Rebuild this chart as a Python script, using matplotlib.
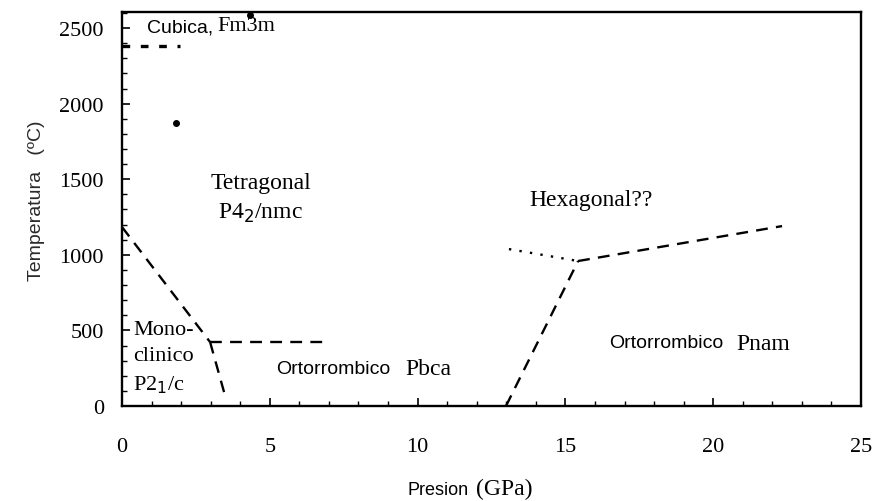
import matplotlib.pyplot as plt
from matplotlib.ticker import MultipleLocator

# fronteras de fase (presion GPa, temperatura C)
cub_p = [0.0, 1.96]
cub_t = [2380, 2380]

mono_tet_p = [0.0, 2.98]
mono_tet_t = [1184, 423]

tet_orto_p = [2.98, 7.04]
tet_orto_t = [423, 423]

mono_orto_p = [2.98, 3.48]
mono_orto_t = [423, 73]

orto_pnam_p = [12.99, 15.43]
orto_pnam_t = [0, 959]

pnam_hex_p = [15.43, 22.33]
pnam_hex_t = [959, 1190]

tet_hex_p = [13.09, 15.43]
tet_hex_t = [1038, 959]

puntos_p = [1.83, 4.33]
puntos_t = [1872, 2586]

x_ticks = [0, 5, 10, 15, 20, 25]
y_ticks = [0, 500, 1000, 1500, 2000, 2500]

serif = 'Liberation Serif'
sans = 'Liberation Sans'

fig = plt.figure(figsize=(8.73, 5.02), dpi=100)
ax = fig.add_axes([0.13975, 0.1892, 0.8465, 0.7849])

dash = (0, (5, 3.5))
lw = 1.7
ax.plot(cub_p, cub_t, color='black', lw=2.4, linestyle=(0, (2.3, 3.2)))
ax.plot(mono_tet_p, mono_tet_t, color='black', lw=lw, linestyle=dash)
ax.plot(tet_orto_p, tet_orto_t, color='black', lw=lw, linestyle=dash)
ax.plot(mono_orto_p, mono_orto_t, color='black', lw=lw, linestyle=dash)
ax.plot(orto_pnam_p, orto_pnam_t, color='black', lw=lw, linestyle=dash)
ax.plot(pnam_hex_p, pnam_hex_t, color='black', lw=lw, linestyle=dash)
ax.plot(tet_hex_p, tet_hex_t, color='black', lw=lw, linestyle=(0, (1, 3.5)))
ax.scatter(puntos_p, puntos_t, color='black', s=16, zorder=3, clip_on=False)

# nombres de las fases
ax.text(0.85, 2505, 'Cubica,', family=sans, fontsize=14, va='center')
ax.text(3.21, 2515, 'Fm3m', family=serif, fontsize=16, va='center')
ax.text(4.70, 1481, 'Tetragonal', family=serif, fontsize=17, ha='center', va='center')
ax.text(4.70, 1283, 'P4$_2$/nmc', family=serif, fontsize=17, ha='center', va='center')
ax.text(15.87, 1369, 'Hexagonal??', family=serif, fontsize=17, ha='center', va='center')
ax.text(0.37, 509, 'Mono-', family=serif, fontsize=16, va='center')
ax.text(0.37, 331, 'clinico', family=serif, fontsize=16, va='center')
ax.text(0.37, 146, 'P2$_1$/c', family=serif, fontsize=16, va='center')
ax.text(7.14, 251, 'Ortorrombico', family=sans, fontsize=14, ha='center', va='center')
ax.text(9.6, 251, 'Pbca', family=serif, fontsize=17, va='center')
ax.text(18.4, 423, 'Ortorrombico', family=sans, fontsize=14, ha='center', va='center')
ax.text(20.77, 415, 'Pnam', family=serif, fontsize=17, va='center')

ax.set_xlim(0, 25)
ax.set_ylim(0, 2606)
ax.set_xticks(x_ticks)
ax.set_yticks(y_ticks)
ax.xaxis.set_minor_locator(MultipleLocator(1))
ax.yaxis.set_minor_locator(MultipleLocator(100))
ax.tick_params(which='both', direction='in', labelsize=16)
ax.tick_params(which='major', length=6, width=1.2)
ax.tick_params(which='minor', length=3.5, width=1)
ax.tick_params(axis='x', pad=22)
ax.tick_params(axis='y', pad=13)
for lab in ax.get_xticklabels() + ax.get_yticklabels():
    lab.set_family(serif)
for s in ax.spines.values():
    s.set_linewidth(1.7)

fig.text(0.042, 0.6, 'Temperatura   (ºC)', family=sans, fontsize=14,
         rotation=90, ha='center', va='center', color='#2a2a2a')
fig.text(0.537, 0.013, 'Presion', family=sans, fontsize=13, ha='right', va='baseline')
fig.text(0.545, 0.013, '(GPa)', family=serif, fontsize=17, ha='left', va='baseline')

fig.savefig('out.png', dpi=100)
